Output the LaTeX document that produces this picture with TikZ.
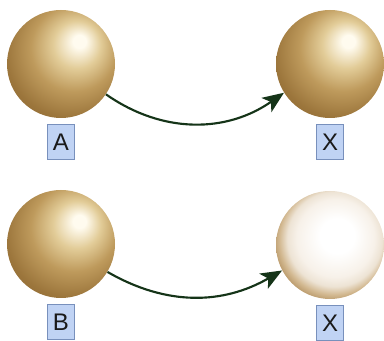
\documentclass[tikz,border=0pt]{standalone}
\usepackage{fontspec}
\setsansfont{Liberation Sans}
\usepackage{xcolor}
\usetikzlibrary{positioning}
\usetikzlibrary{arrows.meta}
\definecolor{wire}{HTML}{153418}
\definecolor{tagfill}{HTML}{C0D3F4}
\definecolor{tagedge}{HTML}{7890BC}
\definecolor{tagtext}{HTML}{1A1A1A}
\definecolor{ghi}{HTML}{FFFBEF}
\definecolor{glt}{HTML}{E2CC98}
\definecolor{gmd}{HTML}{BE9A5C}
\definecolor{gdk}{HTML}{9C763C}
\definecolor{gxd}{HTML}{86622E}
\definecolor{pla}{HTML}{F7F1E9}
\definecolor{plb}{HTML}{EDE3D4}
\definecolor{plc}{HTML}{D2B890}
\definecolor{pld}{HTML}{A88450}
\pgfdeclareradialshading{goldball}{\pgfpoint{9bp}{11bp}}{color(0bp)=(ghi); color(3bp)=(ghi); color(11bp)=(glt); color(20bp)=(gmd); color(30bp)=(gdk); color(40bp)=(gxd); color(60bp)=(gxd)}
\pgfdeclareradialshading{pearlball}{\pgfpoint{4bp}{5bp}}{color(0bp)=(white); color(8bp)=(white); color(18bp)=(pla); color(22bp)=(plb); color(25.5bp)=(plc); color(30bp)=(pld); color(50bp)=(pld)}
\tikzset{
  ball/.style={circle, minimum size=81pt, inner sep=0pt, shading=goldball},
  pearl/.style={ball, shading=pearlball},
  tag/.style={draw=tagedge, fill=tagfill, line width=0.75pt, minimum width=20pt, minimum height=26pt, inner sep=0pt, text=tagtext, font=\sffamily\fontsize{18}{18}\selectfont},
  link/.style={wire, line width=1.6pt, -{Stealth[length=16pt, width=13pt, inset=4pt]}}
}

\begin{document}
\begin{tikzpicture}[x=0.75pt, y=0.75pt, node distance=4.5pt]
	\useasboundingbox (0,0) rectangle (384,341);
	\node[ball] (a) at (61,277) {};
	\node[ball] (xa) at (330,277) {};
	\node[ball] (b) at (61,97) {};
	\node[pearl] (xb) at (330,96) {};
	\node[tag, below=of a] (la) {A};
	\node[tag, below=of xa] (lxa) {X};
	\node[tag, below=of b] (lb) {B};
	\node[tag, below=of xb] (lxb) {X};
	\draw[link] (a.-34) to[out=-35, in=215] (xa.212);
	\draw[link] (b.-31) to[out=-30, in=210] (xb.208);
\end{tikzpicture}
\end{document}
